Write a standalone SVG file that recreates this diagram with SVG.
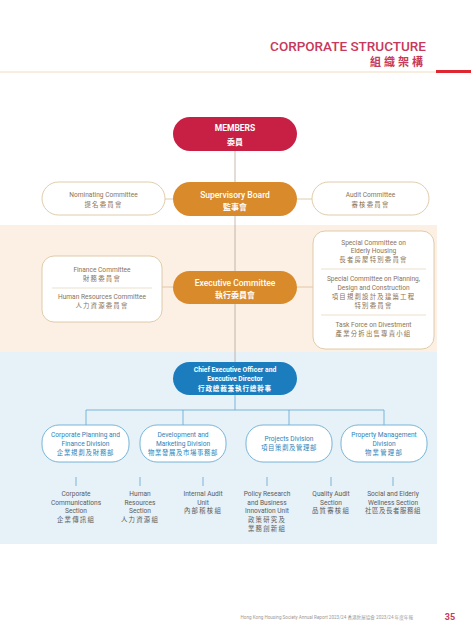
<svg xmlns="http://www.w3.org/2000/svg" width="471" height="640" viewBox="0 0 471 640">
<style>
text{font-family:Roboto,"Noto Sans CJK TC","Noto Sans",sans-serif;text-anchor:middle}
.wt{fill:#fff;font-weight:700}
.big{font-size:8.5px}
.sm{font-size:6.6px}
.cj{font-size:6.4px;letter-spacing:1.2px}
.br{fill:#8a7358}
.bl{fill:#2d83b8}
.gy{fill:#5c5c5c}
.wbox{fill:#fff;stroke:#dcc6a0;stroke-width:0.9}
.dbox{fill:#fff;stroke:#6aaed4;stroke-width:0.9}
.ln{stroke:#b8a69a;stroke-width:0.8;fill:none}
.tl{stroke:#d8bf98;stroke-width:0.8;fill:none}
.blln{stroke:#5ea7d0;stroke-width:0.8;fill:none}
.dv{stroke:#e3d3b8;stroke-width:0.7}
</style>
<rect width="471" height="640" fill="#fff"/>
<!-- title -->
<g id="title">
<text x="426" y="51" style="text-anchor:end;font-size:13.5px;font-weight:500;fill:#c7385b">CORPORATE STRUCTURE</text>
<text x="426" y="66" style="text-anchor:end;font-size:11px;font-weight:700;fill:#c7385b;letter-spacing:3px">組織架構</text>
<line x1="0" y1="72" x2="436" y2="72" stroke="#e6cfa8" stroke-width="0.7"/>
<rect x="436" y="70" width="35" height="3" fill="#e0262e"/>
</g>
<!-- bands -->
<rect x="0" y="225" width="437" height="127" fill="#fcefe4"/>
<rect x="0" y="352" width="437" height="192" fill="#e6f1f8"/>
<!-- connectors -->
<g id="connectors">
<line class="ln" x1="235" y1="150" x2="235" y2="362"/>
<line class="tl" x1="165" y1="199" x2="173" y2="199"/>
<line class="tl" x1="297" y1="199" x2="312" y2="199"/>
<line class="tl" x1="162" y1="287" x2="173" y2="287"/>
<line class="tl" x1="297" y1="287" x2="313" y2="287"/>
<path class="blln" d="M235 394 V410 M86 410 H384 M86 410 V425 M183 410 V425 M289 410 V425 M384 410 V425"/>
<path class="blln" d="M76 477 V486 M140 477 V486 M203 477 V486 M267 477 V486 M331 477 V486 M393 477 V486"/>
</g>
<!-- members -->
<g id="members">
<rect x="173" y="117" width="124" height="34" rx="17" fill="#c81f45"/>
<text class="wt big" x="235" y="131">MEMBERS</text>
<text class="wt" x="235" y="145" style="font-size:8px">委員</text>
</g>
<g id="supervisory">
<rect x="173" y="182" width="124" height="34" rx="17" fill="#d98b2c"/>
<text class="wt big" x="235" y="198" style="font-weight:500">Supervisory Board</text>
<text class="wt" x="235" y="210" style="font-size:8px">監事會</text>
</g>
<g id="nominating">
<rect class="wbox" x="42" y="182" width="123" height="33" rx="16.5"/>
<text class="sm br" x="103.5" y="197">Nominating Committee</text>
<text class="cj br" x="103.5" y="207">提名委員會</text>
</g>
<g id="audit">
<rect class="wbox" x="312" y="182" width="117" height="33" rx="16.5"/>
<text class="sm br" x="370.5" y="197">Audit Committee</text>
<text class="cj br" x="370.5" y="207">審核委員會</text>
</g>
<g id="finance-hr">
<rect class="wbox" x="42" y="256" width="120" height="66" rx="12"/>
<text class="sm br" x="102" y="272">Finance Committee</text>
<text class="cj br" x="102" y="281">財務委員會</text>
<line class="dv" x1="52" y1="288" x2="152" y2="288"/>
<text class="sm br" x="102" y="299">Human Resources Committee</text>
<text class="cj br" x="102" y="308">人力資源委員會</text>
</g>
<g id="executive">
<rect x="173" y="271" width="124" height="33" rx="16.5" fill="#d98b2c"/>
<text class="wt big" x="235" y="286" style="font-weight:500">Executive Committee</text>
<text class="wt" x="235" y="298" style="font-size:8px">執行委員會</text>
</g>
<g id="special">
<rect class="wbox" x="313" y="231" width="121" height="118" rx="12"/>
<text class="sm br" x="373.5" y="245">Special Committee on</text>
<text class="sm br" x="373.5" y="253">Elderly Housing</text>
<text class="cj br" x="373.5" y="262">長者房屋特別委員會</text>
<line class="dv" x1="321" y1="269" x2="426" y2="269"/>
<text class="sm br" x="373.5" y="281">Special Committee on Planning,</text>
<text class="sm br" x="373.5" y="290">Design and Construction</text>
<text class="cj br" x="373.5" y="299">項目規劃設計及建築工程</text>
<text class="cj br" x="373.5" y="308">特別委員會</text>
<line class="dv" x1="321" y1="315" x2="426" y2="315"/>
<text class="sm br" x="373.5" y="327">Task Force on Divestment</text>
<text class="cj br" x="373.5" y="336">產業分拆出售專責小組</text>
</g>
<g id="ceo">
<rect x="173" y="362" width="124" height="33" rx="16.5" fill="#1c7dbe"/>
<text class="wt" x="235" y="372" style="font-size:6.8px">Chief Executive Officer and</text>
<text class="wt" x="235" y="381" style="font-size:6.8px">Executive Director</text>
<text class="wt" x="235" y="391" style="font-size:6.6px;letter-spacing:0.8px">行政總裁兼執行總幹事</text>
</g>
<g id="div-cpf">
<rect class="dbox" x="42" y="425" width="87" height="37" rx="17"/>
<text class="sm bl" x="85.5" y="437">Corporate Planning and</text>
<text class="sm bl" x="85.5" y="446">Finance Division</text>
<text class="cj bl" x="85.5" y="455" style="letter-spacing:0.8px">企業規劃及財務部</text>
</g>
<g id="div-dm">
<rect class="dbox" x="140" y="425" width="86" height="37" rx="17"/>
<text class="sm bl" x="183" y="437">Development and</text>
<text class="sm bl" x="183" y="446">Marketing Division</text>
<text class="cj bl" x="183" y="455" style="letter-spacing:0.6px">物業發展及市場事務部</text>
</g>
<g id="div-proj">
<rect class="dbox" x="246" y="425" width="86" height="37" rx="17"/>
<text class="sm bl" x="289" y="441">Projects Division</text>
<text class="cj bl" x="289" y="450" style="letter-spacing:0.6px">項目策劃及管理部</text>
</g>
<g id="div-pm">
<rect class="dbox" x="341" y="425" width="86" height="37" rx="17"/>
<text class="sm bl" x="384" y="437">Property Management</text>
<text class="sm bl" x="384" y="446">Division</text>
<text class="cj bl" x="384" y="455">物業管理部</text>
</g>
<g id="sec-cc">
<text class="sm gy" x="76" y="496">Corporate</text>
<text class="sm gy" x="76" y="504.5">Communications</text>
<text class="sm gy" x="76" y="513">Section</text>
<text class="cj gy" x="76" y="522">企業傳訊組</text>
</g>
<g id="sec-hr">
<text class="sm gy" x="140" y="496">Human</text>
<text class="sm gy" x="140" y="504.5">Resources</text>
<text class="sm gy" x="140" y="513">Section</text>
<text class="cj gy" x="140" y="522">人力資源組</text>
</g>
<g id="sec-ia">
<text class="sm gy" x="203" y="496">Internal Audit</text>
<text class="sm gy" x="203" y="504.5">Unit</text>
<text class="cj gy" x="203" y="513">內部稽核組</text>
</g>
<g id="sec-pr">
<text class="sm gy" x="267" y="496">Policy Research</text>
<text class="sm gy" x="267" y="504.5">and Business</text>
<text class="sm gy" x="267" y="513">Innovation Unit</text>
<text class="cj gy" x="267" y="522">政策研究及</text>
<text class="cj gy" x="267" y="531">業務創新組</text>
</g>
<g id="sec-qa">
<text class="sm gy" x="331" y="496">Quality Audit</text>
<text class="sm gy" x="331" y="504.5">Section</text>
<text class="cj gy" x="331" y="513">品質審核組</text>
</g>
<g id="sec-se">
<text class="sm gy" x="393" y="496">Social and Elderly</text>
<text class="sm gy" x="393" y="504.5">Wellness Section</text>
<text class="cj gy" x="393" y="513" style="letter-spacing:0.6px">社區及長者服務組</text>
</g>
<g id="footer">
<text x="413" y="619" style="text-anchor:end;font-size:4.6px;fill:#9a9a9a">Hong Kong Housing Society Annual Report 2023/24    香港房屋協會 2023/24 年度年報</text>
<text x="450" y="620" style="font-size:9px;font-weight:700;fill:#c7385b">35</text>
</g>
</svg>
